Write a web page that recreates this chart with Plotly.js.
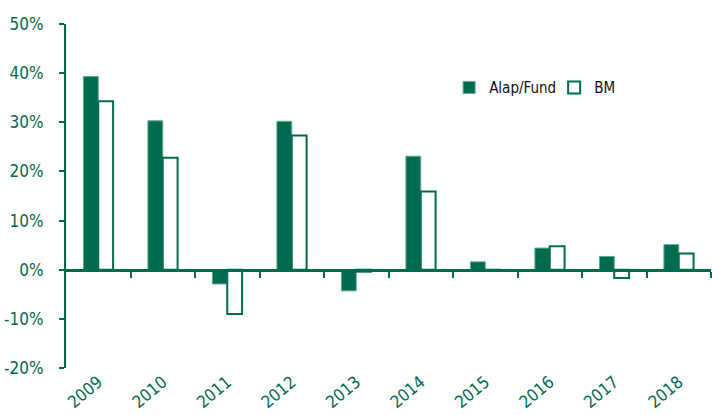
<!DOCTYPE html>
<html><head><meta charset="utf-8">
<script src="https://cdn.plot.ly/plotly-3.0.1.min.js"></script>
<style>html,body{margin:0;padding:0;background:#fff}#c{width:712px;height:415px}</style>
</head><body><div id="c"></div>
<script>
const years = ['2009','2010','2011','2012','2013','2014','2015','2016','2017','2018'];
const fund = [39.3, 30.3, -2.9, 30.2, -4.3, 23.1, 1.6, 4.4, 2.7, 5.1];
const bm = [34.3, 22.8, -9.0, 27.3, -0.4, 15.9, -0.2, 4.8, -1.7, 3.3];
const yTicks = [-20, -10, 0, 10, 20, 30, 40, 50];
const seriesNames = ['Alap/Fund', 'BM'];

const green = '#006b4f';
const font = '"Liberation Sans Narrow", "DejaVu Sans Condensed", "Arial Narrow", sans-serif';
const yMin = -20, yMax = 50;
const boundaries = years.map((_, i) => i + 0.5);

const traces = [
  {type:'bar', x: years, y: fund, name: seriesNames[0],
   marker:{color: green, line:{color:'#5fa88e', width:1}}},
  {type:'bar', x: years, y: bm, name: seriesNames[1],
   marker:{color:'#ffffff', line:{color: green, width:2}}},
  {type:'scatter', mode:'none', x:[-0.5, years.length - 0.5], y:[0,0], xaxis:'x2',
   showlegend:false, hoverinfo:'skip'}
];

const layout = {
  width:712, height:415,
  margin:{l:66, r:1, t:24, b:47},
  paper_bgcolor:'#fff', plot_bgcolor:'#fff',
  barmode:'group', bargap:0.54, bargroupgap:0,
  font:{family: font, color: green, size:17},
  showlegend:true,
  legend:{orientation:'h', x:0.594, y:0.815, xanchor:'left', yanchor:'middle',
    font:{family: font, size:15, color:'#111'}, itemwidth:30, traceorder:'normal',
    entrywidth:60, entrywidthmode:'pixels',
    bgcolor:'rgba(0,0,0,0)'},
  xaxis:{type:'category', range:[-0.5, years.length - 0.5], showline:false, ticks:'',
    showgrid:false, zeroline:false, tickangle:-40,
    tickfont:{family: font, size:17, color: green}},
  xaxis2:{overlaying:'x', anchor:'free', position:(0 - yMin)/(yMax - yMin),
    range:[-0.5, years.length - 0.5], tickvals: boundaries, showticklabels:false,
    ticks:'outside', ticklen:6, tickwidth:2, tickcolor: green,
    showline:true, linecolor: green, linewidth:3, showgrid:false, zeroline:false},
  yaxis:{range:[yMin, yMax], tickvals: yTicks, ticktext: yTicks.map(v => v + '%'),
    showline:true, linecolor: green, linewidth:2, ticks:'outside', ticklen:5,
    tickwidth:2, tickcolor: green, showgrid:false, zeroline:false, ticklabelstandoff:12,
    tickfont:{family: font, size:17, color: green}}
};
Plotly.newPlot('c', traces, layout, {displayModeBar:false, staticPlot:true});
</script></body></html>
